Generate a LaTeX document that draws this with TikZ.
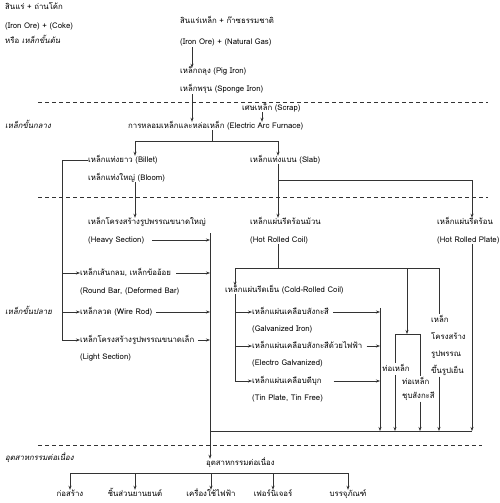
\documentclass[tikz,border=0pt]{standalone}
\usepackage{fontspec}
\setmainfont{Loma}[Script=Thai]
\usetikzlibrary{arrows.meta}

\begin{document}
\begin{tikzpicture}[x=1pt, y=-1pt,
    font=\fontsize{7.8}{9}\selectfont,
    lbl/.style={anchor=west, inner sep=0pt, text height=6pt, text depth=2pt},
    side/.style={lbl, font=\fontsize{7.8}{9}\selectfont\itshape},
    blk/.style={anchor=north west, inner sep=1pt, align=left},
    conn/.style={line width=0.7pt, black!80},
    flow/.style={conn, -{Stealth[length=4pt, width=3pt]}},
    sep/.style={line width=0.7pt, black!80, dash pattern=on 4pt off 3pt}]
    \useasboundingbox (0,0) rectangle (500,503);

    % raw materials
    \node[lbl] (ore1) at (5,8) {สินแร่ + ถ่านโค้ก};
    \node[lbl] (ore1en) at (5,27) {(Iron Ore) + (Coke)};
    \node[lbl] (ore1alt) at (5,42) {หรือ \textit{เหล็กขั้นต้น}};
    \node[lbl] (ore2) at (180,22) {สินแร่เหล็ก + ก๊าซธรรมชาติ};
    \node[lbl] (ore2en) at (180,43) {(Iron Ore) + (Natural Gas)};
    \node[lbl] (pig) at (180,72) {เหล็กถลุง (Pig Iron)};
    \node[lbl] (sponge) at (180,90) {เหล็กพรุน (Sponge Iron)};
    \node[lbl] (scrap) at (242,108) {เศษเหล็ก (Scrap)};

    % intermediate
    \node[side] (lblMid) at (5,126) {เหล็กขั้นกลาง};
    \node[lbl] (eaf) at (128,126) {การหลอมเหล็กและหล่อเหล็ก (Electric Arc Furnace)};
    \node[lbl] (billet) at (88,160) {เหล็กแท่งยาว (Billet)};
    \node[lbl] (bloom) at (88,178) {เหล็กแท่งใหญ่ (Bloom)};
    \node[lbl] (slab) at (250,160) {เหล็กแท่งแบน (Slab)};

    % final products
    \node[lbl] (heavy) at (88,222) {เหล็กโครงสร้างรูปพรรณขนาดใหญ่};
    \node[lbl] (heavyen) at (88,240) {(Heavy Section)};
    \node[lbl] (hrc) at (250,222) {เหล็กแผ่นรีดร้อนม้วน};
    \node[lbl] (hrcen) at (250,240) {(Hot Rolled Coil)};
    \node[lbl] (hrp) at (437,222) {เหล็กแผ่นรีดร้อน};
    \node[lbl] (hrpen) at (437,240) {(Hot Rolled Plate)};
    \node[side] (lblFin) at (5,312) {เหล็กขั้นปลาย};
    \node[lbl] (round) at (80,273) {เหล็กเส้นกลม, เหล็กข้ออ้อย};
    \node[lbl] (rounden) at (80,291) {(Round Bar, (Deformed Bar)};
    \node[lbl] (wire) at (80,312) {เหล็กลวด (Wire Rod)};
    \node[lbl] (light) at (80,340) {เหล็กโครงสร้างรูปพรรณขนาดเล็ก};
    \node[lbl] (lighten) at (80,357) {(Light Section)};
    \node[lbl] (crc) at (225,290) {เหล็กแผ่นรีดเย็น (Cold-Rolled Coil)};
    \node[lbl] (galv) at (252,312) {เหล็กแผ่นเคลือบสังกะสี};
    \node[lbl] (galven) at (252,329) {(Galvanized Iron)};
    \node[lbl] (egalv) at (252,346) {เหล็กแผ่นเคลือบสังกะสีด้วยไฟฟ้า};
    \node[lbl] (egalven) at (252,363) {(Electro Galvanized)};
    \node[lbl] (tin) at (252,381) {เหล็กแผ่นเคลือบดีบุก};
    \node[lbl] (tinen) at (252,398) {(Tin Plate, Tin Free)};
    \node[lbl, anchor=center, inner ysep=2pt] (pipe) at (396,369) {ท่อเหล็ก};
    \node[blk, font=\fontsize{7.8}{14}\selectfont] (gpipe) at (401,376) {ท่อเหล็ก\\ชุบสังกะสี};
    \node[blk, font=\fontsize{7.8}{17}\selectfont] (cfs) at (430,314) {เหล็ก\\โครงสร้าง\\รูปพรรณ\\ขึ้นรูปเย็น};

    % downstream
    \node[side] (lblCont) at (5,458) {อุตสาหกรรมต่อเนื่อง};
    \node[lbl] (cont) at (206,463) {อุตสาหกรรมต่อเนื่อง};
    \foreach \x/\t [count=\i] in {70/ก่อสร้าง, 135/ชิ้นส่วนยานยนต์, 211/เครื่องใช้ไฟฟ้า, 273/เฟอร์นิเจอร์, 348/บรรจุภัณฑ์} {
        \node[lbl, anchor=center] (use\i) at (\x,494) {\t};
    }

    % columns and joints
    \coordinate (cOre) at (192,0);
    \coordinate (cScrap) at (262,0);
    \coordinate (jEaf) at (212,141);
    \coordinate (cLong) at (135,0);
    \coordinate (cFlat) at (278,0);
    \coordinate (jSlab) at (278,180);
    \coordinate (cPlate) at (472,0);
    \coordinate (cBar) at (62,0);
    \coordinate (tTop) at (210,233);
    \coordinate (jHrc) at (278,268);
    \coordinate (cCold) at (235,0);
    \coordinate (cCoat) at (380,0);
    \coordinate (jPipe) at (407,334);
    \coordinate (cPipeA) at (395,0);
    \coordinate (cPipeB) at (420,0);
    \coordinate (cForm) at (439,0);
    \coordinate (bus) at (0,431);
    \coordinate (bar) at (0,473);

    % separators
    \draw[sep] (38,102) -- (488,102);
    \draw[sep] (38,197) -- (488,197);
    \draw[sep] (38,445) -- (482,445);

    % upstream flow
    \draw[flow] (ore2en.south -| cOre) -- (pig.north -| cOre);
    \draw[flow] (sponge.south -| cOre) -- (eaf.north -| cOre);
    \draw[flow] (scrap.south -| cScrap) -- (eaf.north -| cScrap);
    \draw[conn] (eaf.south -| jEaf) -- (jEaf);
    \draw[flow] (jEaf) -| (billet.north -| cLong);
    \draw[flow] (jEaf) -| (slab.north -| cFlat);

    % long products
    \draw[flow] (billet.west) -| (cBar |- light.west) -- (light.west);
    \draw[flow] (cBar |- round.west) -- (round.west);
    \draw[flow] (cBar |- wire.west) -- (wire.west);
    \draw[flow] (bloom.south -| cLong) -- (heavy.north -| cLong);
    \draw[flow, shorten <=8pt] (heavyen.east) -- (heavyen.east -| tTop);
    \draw[flow, shorten <=5pt] (round.east) -- (round.east -| tTop);
    \draw[flow, shorten <=4pt] (wire.east) -- (wire.east -| tTop);
    \draw[flow, shorten <=4pt] (light.east) -- (light.east -| tTop);
    \draw[flow] (tTop) -- (tTop |- cont.north);

    % flat products
    \draw[flow] (slab.south -| cFlat) -- (hrc.north -| cFlat);
    \draw[flow] (jSlab) -| (hrp.north -| cPlate);
    \draw[conn] (hrcen.south -| cFlat) -- (jHrc);
    \draw[flow] (jHrc) -| (crc.north -| cCold);
    \draw[conn] (jHrc) -- (cForm |- jHrc);
    \draw[flow] (cCold |- jHrc) ++(172,0) -- (jPipe);
    \draw[flow] (crc.south -| cCold) |- (tin.west);
    \draw[flow] (cCold |- galv.west) -- (galv.west);
    \draw[flow] (cCold |- egalv.west) -- (egalv.west);
    \draw[flow, shorten <=4pt] (galv.east) -- (galv.east -| cCoat);
    \draw[flow, shorten <=4pt] (egalv.east) -- (egalv.east -| cCoat);
    \draw[flow, shorten <=12pt] (tin.east) -- (tin.east -| cCoat);
    \draw[conn] (cPipeA |- jPipe) -- (cPipeB |- jPipe);
    \draw[conn] (cPipeA |- jPipe) -- (cPipeA |- pipe.north);
    \draw[conn] (cPipeB |- jPipe) -- (cPipeB |- gpipe.north);
    \draw[conn] (cForm |- jHrc) -- (cForm |- cfs.north);

    % collecting bus
    \draw[conn] (tTop |- bus) -- (cPlate |- bus);
    \draw[flow] (cCoat |- galv.north) -- (cCoat |- bus);
    \draw[flow] (cPipeA |- pipe.south) -- (cPipeA |- bus);
    \draw[flow] (cPipeB |- gpipe.south) -- (cPipeB |- bus);
    \draw[flow] (cForm |- cfs.south) -- (cForm |- bus);
    \draw[flow] (hrpen.south -| cPlate) -- (cPlate |- bus);

    % downstream branches
    \draw[conn] (use1.north |- bar) -- (use5.north |- bar);
    \foreach \i in {1,...,5} {
        \draw[flow] (use\i.north |- bar) -- (use\i.north);
    }
\end{tikzpicture}
\end{document}
